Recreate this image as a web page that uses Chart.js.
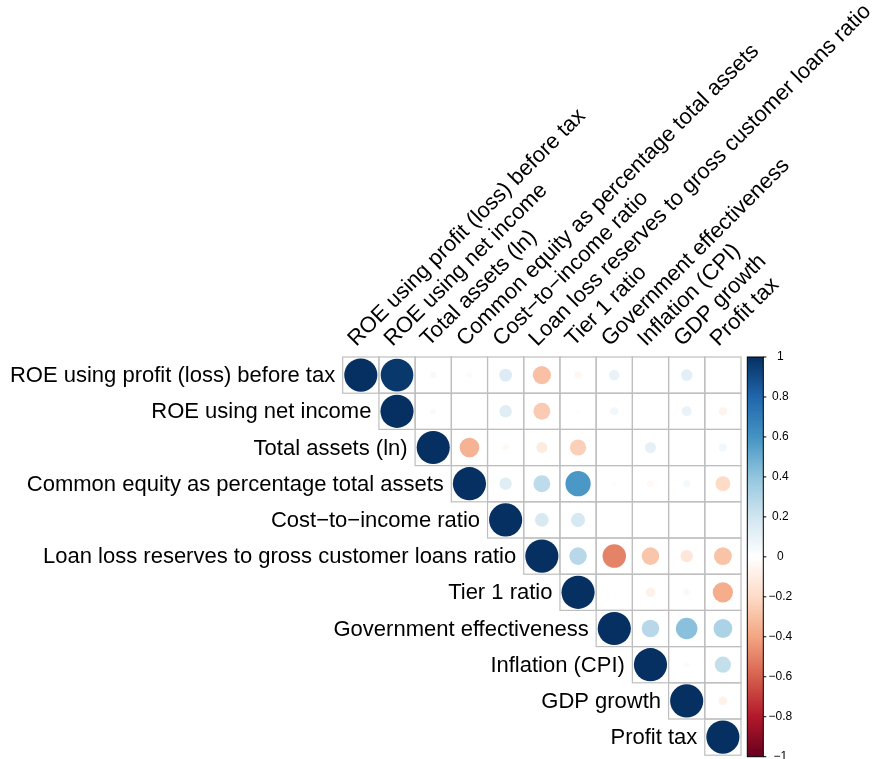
<!DOCTYPE html>
<html>
<head>
<meta charset="utf-8">
<script src="https://cdn.jsdelivr.net/npm/chart.js@4/dist/chart.umd.min.js"></script>
<style>
  html, body { margin: 0; padding: 0; background: #ffffff; }
  canvas { display: block; }
</style>
</head>
<body>
<canvas id="corr" width="879" height="759"></canvas>
<script>
// Variable names (rows and columns of the correlation matrix)
const variables = [
  'ROE using profit (loss) before tax',
  'ROE using net income',
  'Total assets (ln)',
  'Common equity as percentage total assets',
  'Cost\u2212to\u2212income ratio',
  'Loan loss reserves to gross customer loans ratio',
  'Tier 1 ratio',
  'Government effectiveness',
  'Inflation (CPI)',
  'GDP growth',
  'Profit tax'
];

// Upper-triangle correlations, each row starting at its diagonal entry
const roePbtRow      = [1, 0.97, 0.04, -0.03, 0.15, -0.30, -0.05, 0.10, 0.01, 0.12, 0.01];
const roeNetRow      = [1, 0.03, 0.01, 0.14, -0.26, -0.01, 0.06, 0.01, 0.09, -0.06];
const totalAssetsRow = [1, -0.35, -0.04, -0.11, -0.24, 0.01, 0.11, 0.01, 0.06];
const equityRow      = [1, 0.14, 0.26, 0.58, -0.02, -0.04, 0.05, -0.20];
const costIncomeRow  = [1, 0.17, 0.18, 0.01, 0.01, 0.01, 0.01];
const loanLossRow    = [1, 0.28, -0.50, -0.28, -0.14, -0.29];
const tier1Row       = [1, -0.01, -0.08, 0.04, -0.37];
const govEffRow      = [1, 0.28, 0.42, 0.32];
const inflationRow   = [1, -0.03, 0.24];
const gdpRow         = [1, -0.07];
const profitTaxRow   = [1];

const upperRows = [roePbtRow, roeNetRow, totalAssetsRow, equityRow, costIncomeRow,
                   loanLossRow, tier1Row, govEffRow, inflationRow, gdpRow, profitTaxRow];

// Colour legend ticks
const legendTicks = [1, 0.8, 0.6, 0.4, 0.2, 0, -0.2, -0.4, -0.6, -0.8, -1];

// Diverging red-blue palette from -1 to 1
const palette = ['#67001F', '#B2182B', '#D6604D', '#F4A582', '#FDDBC7', '#FFFFFF',
                 '#D1E5F0', '#92C5DE', '#4393C3', '#2166AC', '#053061'];

function hexToRgb(h) {
  return [parseInt(h.slice(1, 3), 16), parseInt(h.slice(3, 5), 16), parseInt(h.slice(5, 7), 16)];
}
function colorFor(v) {
  const t = (v + 1) / 2 * (palette.length - 1);
  const i = Math.max(0, Math.min(Math.floor(t), palette.length - 2));
  const f = t - i;
  const a = hexToRgb(palette[i]), b = hexToRgb(palette[i + 1]);
  const c = a.map((x, k) => Math.round(x + (b[k] - x) * f));
  return 'rgb(' + c[0] + ',' + c[1] + ',' + c[2] + ')';
}

// Scatter points: one per upper-triangle cell
const points = [];
upperRows.forEach((vals, r) => {
  vals.forEach((v, k) => {
    points.push({ x: r + k + 1, y: r + 1, v: v });
  });
});

const FONT = '"Liberation Sans", Arial, Helvetica, sans-serif';
const minusText = v => (v < 0 ? '\u2212' : '') + String(Math.abs(v));

const corrDecor = {
  id: 'corrDecor',
  beforeDatasetsDraw(chart) {
    const { ctx } = chart;
    const xs = chart.scales.x, ys = chart.scales.y;
    ctx.save();
    ctx.strokeStyle = '#BEBEBE';
    ctx.lineWidth = 1.2;
    for (let r = 1; r <= variables.length; r++) {
      for (let c = r; c <= variables.length; c++) {
        const x0 = xs.getPixelForValue(c - 0.5), x1 = xs.getPixelForValue(c + 0.5);
        const y0 = ys.getPixelForValue(r - 0.5), y1 = ys.getPixelForValue(r + 0.5);
        ctx.strokeRect(x0, y0, x1 - x0, y1 - y0);
      }
    }
    ctx.restore();
  },
  afterDraw(chart) {
    const { ctx, chartArea } = chart;
    const xs = chart.scales.x, ys = chart.scales.y, cs = chart.scales.cbar;
    ctx.save();
    ctx.fillStyle = '#000000';
    ctx.font = '22px ' + FONT;

    // Row labels, right-aligned against the diagonal cell
    ctx.textAlign = 'right';
    ctx.textBaseline = 'alphabetic';
    variables.forEach((name, i) => {
      const x = xs.getPixelForValue(i + 0.5) - 7.5;
      const y = ys.getPixelForValue(i + 1) + 7;
      ctx.fillText(name, x, y);
    });

    // Column labels, rotated 45 degrees above the top row
    ctx.textAlign = 'left';
    variables.forEach((name, i) => {
      const x = xs.getPixelForValue(i + 1) - 4.5;
      const y = chartArea.top - 10;
      ctx.save();
      ctx.translate(x, y);
      ctx.rotate(-Math.PI / 4);
      ctx.fillText(name, 0, 0);
      ctx.restore();
    });

    // Colour legend bar
    const barLeft = chartArea.right + 6.3;
    const barW = 16;
    const top = cs.getPixelForValue(1), bottom = cs.getPixelForValue(-1) + 1.5;
    const grad = ctx.createLinearGradient(0, bottom, 0, top);
    palette.forEach((col, k) => grad.addColorStop(k / (palette.length - 1), col));
    ctx.fillStyle = grad;
    ctx.fillRect(barLeft, top, barW, bottom - top);
    ctx.strokeStyle = '#000000';
    ctx.lineWidth = 1;
    ctx.strokeRect(barLeft, top, barW, bottom - top);

    ctx.font = '12px ' + FONT;
    ctx.textAlign = 'center';
    ctx.textBaseline = 'middle';
    ctx.fillStyle = '#000000';
    legendTicks.forEach(v => {
      const y = top + (1 - v) / 2 * (bottom - top);
      ctx.beginPath();
      ctx.moveTo(barLeft + barW, y);
      ctx.lineTo(barLeft + barW + 3, y);
      ctx.stroke();
      ctx.fillText(minusText(v), barLeft + barW + 17, y);
    });
    ctx.restore();
  }
};

new Chart(document.getElementById('corr'), {
  type: 'scatter',
  data: {
    datasets: [{
      data: points,
      pointStyle: 'circle',
      borderWidth: 0,
      pointBorderWidth: 0,
      pointRadius: ctx => {
        const area = ctx.chart.chartArea;
        const cell = area ? area.width / variables.length : 36;
        const v = ctx.raw ? ctx.raw.v : 0;
        return cell * 0.458 * Math.sqrt(Math.abs(v));
      },
      pointBackgroundColor: ctx => colorFor(ctx.raw ? ctx.raw.v : 0),
      pointBorderColor: ctx => colorFor(ctx.raw ? ctx.raw.v : 0)
    }]
  },
  options: {
    responsive: false,
    devicePixelRatio: 1,
    animation: false,
    events: [],
    layout: { autoPadding: false, padding: { left: 342.7, right: 138, top: 357, bottom: 3.8 } },
    plugins: { legend: { display: false }, tooltip: { enabled: false } },
    scales: {
      x: { type: 'linear', min: 0.5, max: 11.5, display: false },
      y: { type: 'linear', min: 0.5, max: 11.5, reverse: true, display: false },
      cbar: { type: 'linear', axis: 'y', position: 'right', min: -1, max: 1, display: false }
    }
  },
  plugins: [corrDecor]
});
</script>
</body>
</html>
